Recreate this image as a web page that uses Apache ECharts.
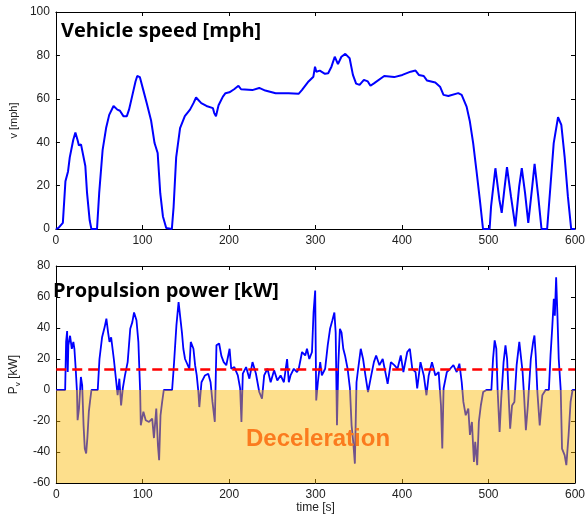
<!DOCTYPE html>
<html>
<head>
<meta charset="utf-8">
<script src="https://cdn.jsdelivr.net/npm/echarts@6/dist/echarts.min.js"></script>
<style>
  html, body { margin: 0; padding: 0; background: #fff; }
  #main { width: 588px; height: 519px; }
</style>
</head>
<body>
<div id="main"></div>
<script>
// time [s], speed [mph]
var speedData = [
  [0,0],[3,0.5],[8,2.8],[11,22],[14,26.5],[16,33],[20,41],[22.5,44.5],[25,41],[26.6,38.5],[29,39],[31,39],
  [34,29],[36,16.5],[39,4],[41,0],[47.5,0],[50,16.5],[54,36.5],[58,46.5],[61.6,52.6],[66.6,56.7],[71,55],
  [74,54.5],[78,52],[82,52],[84.5,55],[88,61],[92,68],[94,70.5],[97,70],[101,64],[105,58],[110,50],
  [114,39.6],[117.6,35],[120.6,16.5],[123.7,5.8],[127.5,0.5],[134,0],[136,10],[139,33],[143.5,46.5],
  [149,52],[155,55],[159,58],[162,60.6],[164,60],[168,58],[174,56.7],[181.5,55.7],[183,53.4],[185,52],
  [188,57],[193,61],[196,62.6],[200.5,63],[206,64.4],[211,66],[214,64.4],[227,64],[235,65],[242,63.8],
  [254,62.6],[269,62.6],[280.5,62.3],[284.3,64],[292,68],[297.6,70.2],[299.5,74.8],[301,72.5],[305,73],
  [311,71.5],[314.7,71.8],[318.5,74.8],[322.3,79.4],[326,76],[330,79.4],[334.5,80.7],[339.5,78.7],
  [343.3,71],[347,67],[351,66.4],[356,68.7],[360.5,68],[363.6,66],[368,67.2],[379.5,70.5],[391,70],
  [400.5,71],[410,72.5],[415.7,73],[419.5,71],[425.2,70.5],[429,68.4],[438.5,67.5],[444,65.6],[448,61.8],
  [453.6,61.3],[465,62.6],[469,61.8],[474.7,56.4],[478.5,49.5],[482.3,39.6],[486,27.3],[490,13.5],
  [493.7,0],[501.3,0],[503,10.4],[508,28],[512.6,13.5],[515.3,7.4],[518.3,18],[521.4,28.5],[526,15],
  [531,1.2],[535.5,19.6],[538.5,28],[542.3,16.5],[546,2.8],[550.6,19.6],[553.3,30],[557.5,15],[561.3,0],
  [567.8,0],[571.6,19.6],[575.4,39.6],[580.4,51.5],[584.2,48],[588,33.4],[591.8,15],[595.6,0],[600,0]
];

// time [s], propulsion power [kW]
var powerData = [
  [0,0],[10.3,0],[11.4,31],[12.6,38],[13.3,11.6],[14,28.8],[16,35],[18,26.6],[19.8,31],[21,26.6],[22.5,13.7],
  [24,-1.3],[24.7,-19.5],[26.3,-12],[28.5,8.4],[30,3],[31.6,-22.8],[33,-37.8],[34.6,-41],[36,-31],[37.7,-14],
  [39,-7.7],[40.7,0],[48,0],[50,20],[53,34],[56,40.6],[58,46],[60,37],[61.6,31],[63.5,34],[66.6,20],[69,7.3],
  [71,-3.4],[73,7.3],[75,-10],[77,1],[79.5,9.4],[82.6,18],[85.6,39.5],[88,43.8],[90,50],[92.8,45],[95,31],
  [97,0],[97.8,-22.8],[100.8,-14],[103.5,-19.5],[107.3,-20.6],[111,-18.5],[113,-31],[115.7,-12],[117.6,-35.6],
  [119,-45.3],[120.6,-16.3],[122.5,-7.7],[124.4,0],[134,0],[135.8,13.7],[139,41.7],[141.5,56.7],[143.5,57.8],
  [145.4,37],[147,26.6],[149,20],[151,20],[154,13.7],[155.6,31],[158.7,26.6],[160.6,16],[162.5,9.4],
  [164.4,-1.3],[165.5,-11],[168,5],[172,9.4],[175.8,10.5],[178.5,5],[180.7,-7.7],[183.4,-20.6],[185.3,28.8],
  [188.4,30],[191,22],[193.7,18],[196.7,16],[200.5,26.6],[202.4,13.7],[206,14.8],[210,9.4],[212.7,1],
  [214.2,-20.6],[215.8,10.5],[219.6,14.8],[223.4,7.3],[227,18],[231,10.5],[234.8,-1.3],[238,-5.6],[240.5,9.4],
  [244.3,13.7],[248,5],[252,12.7],[255.7,6.2],[259.5,9.4],[263.3,5],[267,20],[269,5],[271,9.4],[274.8,13.7],
  [278.5,11.6],[280.5,13.7],[284.3,24.5],[288,22.3],[290,26.6],[292.7,20],[295.8,24.5],[297.6,50],[299.5,64.2],
  [300.7,-6.7],[302.6,5],[305.3,18],[307.2,9.4],[311,13.7],[314,28.8],[316.7,39.5],[319.4,45],[321.7,50],
  [323.2,37],[324.7,-22.8],[326.2,16],[328.1,39.5],[330,37],[332,26.6],[334,22.3],[337,13.7],[339.7,1],
  [341.6,-22.8],[343.5,-33.5],[345.4,-47.5],[347.3,5],[349.2,13.7],[352.2,26.6],[354.9,20],[357.6,9.4],
  [360.6,-1.3],[363.6,7.3],[367.4,18],[370,22.3],[373.8,16],[377.6,20],[381.4,9.4],[383.3,4],[387.1,18],
  [391,16],[394.7,13.7],[398.5,22.3],[401.5,11.6],[406,24.5],[409,26.6],[411.8,13.7],[415.6,11.6],[417.5,1],
  [421.3,18],[425.1,9.4],[428.2,-3.4],[430.8,9.4],[434.6,18],[438.5,9.4],[442.3,11.6],[445,-10],[446.5,-37.8],
  [448,1],[451.8,11.6],[455.6,13.7],[459.4,16],[463.2,11.6],[466.3,17],[469,5],[470.9,-7.7],[473.6,-16.3],
  [476.6,-12],[478.5,-29],[480.8,-20.6],[483.1,-46.4],[484.6,-33.5],[486.9,-48.5],[488.8,-20.6],[491.1,-10],
  [493.8,-1.3],[497.6,0],[503.3,0],[505.2,20],[507.1,32],[509,26.6],[510.5,0],[512.8,-27],[514.7,-5.6],
  [517.4,18],[519.6,28.8],[521.5,20],[523.4,-5.6],[525,-25],[527.2,-10],[529.9,-7.7],[532.5,16],[535.6,31],
  [537.5,30],[539.4,11.6],[541.3,-5.6],[543.2,-26],[545.5,-10],[548.9,20],[551.6,31],[553.1,35.2],[554.6,22.3],
  [556.5,-1.3],[559.2,-22.8],[562.2,-3.4],[566,0],[569.8,0],[571.7,22.3],[573.6,39.5],[575.5,58.8],[576.7,48],
  [578.2,72.8],[579.7,48],[581.2,20],[583.5,0],[585,-37.8],[588,-42],[590,-48.5],[592.6,-29],[594.9,-7.7],
  [597.2,0],[600,0]
];

var meanPower = 13.3;          // red dashed reference level
var timeRange = [0, 600];
var speedRange = [0, 100];
var powerRange = [-60, 80];

var font = 'Liberation Sans, Arial, sans-serif';
var labelStyle = { fontSize: 12, color: '#222', fontFamily: font, margin: 6 };

function baseAxis(extra) {
  var a = {
    type: 'value',
    splitLine: { show: false },
    axisLine: { show: true, onZero: false, lineStyle: { color: '#000', width: 1 } },
    axisTick: { show: true, inside: true, length: 4, lineStyle: { color: '#000' } },
    axisLabel: labelStyle
  };
  for (var k in extra) a[k] = extra[k];
  return a;
}
function mirror(extra) {
  var a = baseAxis(extra);
  a.axisLabel = { show: false };
  return a;
}

var chart = echarts.init(document.getElementById('main'), null, { renderer: 'canvas' });

chart.setOption({
  backgroundColor: '#fff',
  animation: false,
  title: [
    { text: 'Vehicle speed [mph]', left: 61, top: 21, padding: 0,
      textStyle: { fontSize: 20, fontWeight: 'bold', color: '#000', fontFamily: 'Open Sans, sans-serif' } },
    { text: 'Propulsion power [kW]', left: 53, top: 281, padding: 0,
      textStyle: { fontSize: 20, fontWeight: 'bold', color: '#000', fontFamily: 'Open Sans, sans-serif' } },
    { text: 'Deceleration', left: 246, top: 427, padding: 0,
      textStyle: { fontSize: 24, fontWeight: 'bold', color: '#fb7b1e', fontFamily: font } }
  ],
  grid: [
    { left: 54, right: 7, top: 12, height: 217 },
    { left: 54, right: 7, top: 266, height: 217 }
  ],
  xAxis: [
    baseAxis({ gridIndex: 0, min: timeRange[0], max: timeRange[1], interval: 100 }),
    mirror({ gridIndex: 0, position: 'top', min: timeRange[0], max: timeRange[1], interval: 100 }),
    baseAxis({ gridIndex: 1, min: timeRange[0], max: timeRange[1], interval: 100,
      name: 'time [s]', nameLocation: 'middle', nameGap: 19,
      nameTextStyle: { fontSize: 12, color: '#222', fontFamily: font } }),
    mirror({ gridIndex: 1, position: 'top', min: timeRange[0], max: timeRange[1], interval: 100 })
  ],
  yAxis: [
    baseAxis({ gridIndex: 0, min: speedRange[0], max: speedRange[1], interval: 20,
      name: 'v [mph]', nameLocation: 'middle', nameGap: 28,
      nameTextStyle: { fontSize: 11, color: '#222', fontFamily: font } }),
    mirror({ gridIndex: 0, position: 'right', min: speedRange[0], max: speedRange[1], interval: 20 }),
    baseAxis({ gridIndex: 1, min: powerRange[0], max: powerRange[1], interval: 20,
      name: '{p|P}{s|v}{p| [kW]}', nameLocation: 'middle', nameGap: 30,
      nameTextStyle: { color: '#222', fontFamily: font,
        rich: { p: { fontSize: 12, color: '#222', fontFamily: font },
                s: { fontSize: 8, color: '#222', fontFamily: font, padding: [8, 0, 0, 0] } } } }),
    mirror({ gridIndex: 1, position: 'right', min: powerRange[0], max: powerRange[1], interval: 20 })
  ],
  series: [
    {
      name: 'speed', type: 'line', xAxisIndex: 0, yAxisIndex: 0,
      data: speedData, showSymbol: false, smooth: false,
      lineStyle: { color: '#0000ff', width: 2 }
    },
    {
      name: 'power', type: 'line', xAxisIndex: 2, yAxisIndex: 2, z: 2,
      data: powerData, showSymbol: false,
      lineStyle: { color: '#0000ff', width: 1.8 }
    },
    {
      // translucent deceleration band laid over the trace below zero
      name: 'deceleration', type: 'line', xAxisIndex: 2, yAxisIndex: 2, z: 3,
      data: [[timeRange[0], 0], [timeRange[1], 0]], showSymbol: false,
      lineStyle: { width: 0 },
      areaStyle: { color: 'rgba(250,184,0,0.45)', opacity: 1, origin: 'start' }
    },
    {
      name: 'mean', type: 'line', xAxisIndex: 2, yAxisIndex: 2, z: 4,
      data: [[timeRange[0], meanPower], [timeRange[1], meanPower]], showSymbol: false,
      lineStyle: { color: '#ff0000', width: 2.5, type: [10, 6] }
    }
  ]
});
</script>
</body>
</html>
